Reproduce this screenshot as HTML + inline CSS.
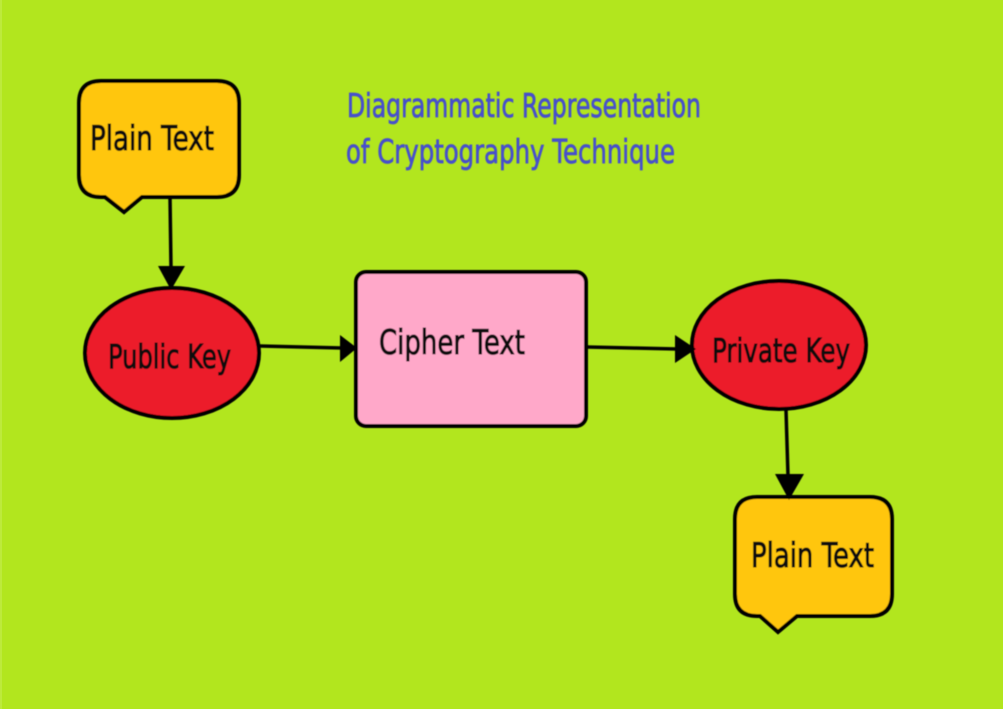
<!DOCTYPE html>
<html><head><meta charset="utf-8"><style>
html,body{margin:0;padding:0;background:#b2e61e;width:1003px;height:709px;overflow:hidden}
svg{display:block}
text{font-family:"DejaVu Sans","Liberation Sans",sans-serif}
</style></head><body>
<svg width="1003" height="709" viewBox="0 0 1003 709" xmlns="http://www.w3.org/2000/svg">
<defs><filter id="b" x="-5%" y="-5%" width="110%" height="110%"><feGaussianBlur stdDeviation="0.5"/></filter></defs>
<rect x="0" y="0" width="1003" height="709" fill="#b2e61e"/>
<rect x="0" y="0" width="2" height="709" fill="#bdea3c"/>
<g filter="url(#b)">
<path d="M101 81H217Q239 81 239 103V175Q239 197 217 197H142L124 212L105 197H101Q79 197 79 175V103Q79 81 101 81Z" fill="#ffc60f" stroke="#000" stroke-width="4"/>
<path d="M757 497H870Q892 497 892 519V594Q892 616 870 616H797L778 632L760 616H757Q735 616 735 594V519Q735 497 757 497Z" fill="#ffc60f" stroke="#000" stroke-width="4"/>
<ellipse cx="172" cy="353" rx="87" ry="65" fill="#ec1c2b" stroke="#000" stroke-width="4"/>
<ellipse cx="779" cy="345" rx="87" ry="64" fill="#ec1c2b" stroke="#000" stroke-width="4"/>
<rect x="356" y="272" width="230" height="154" rx="10" fill="#ffa8c9" stroke="#000" stroke-width="4"/>
<g stroke="#000" stroke-width="3.5" fill="none">
<line x1="170" y1="197" x2="171" y2="268"/>
<line x1="260" y1="346" x2="342" y2="348"/>
<line x1="587" y1="347" x2="677" y2="349"/>
<line x1="786" y1="410" x2="788" y2="476"/>
</g>
<g fill="#000">
<polygon points="158,266 185,266 171,290"/>
<polygon points="340,335 340,362 357,348"/>
<polygon points="675,335 675,363 696,349"/>
<polygon points="775,474 804,474 789,500"/>
</g>
<g font-size="34" fill="#101010" stroke="#101010" stroke-width="1">
<text x="90" y="150" textLength="124" lengthAdjust="spacingAndGlyphs">Plain Text</text>
<text x="751" y="567" textLength="123" lengthAdjust="spacingAndGlyphs">Plain Text</text>
<text x="379" y="354" textLength="146" lengthAdjust="spacingAndGlyphs">Cipher Text</text>
<text x="108" y="368" font-size="33" textLength="123" lengthAdjust="spacingAndGlyphs">Public Key</text>
<text x="712" y="362" font-size="33" textLength="138" lengthAdjust="spacingAndGlyphs">Private Key</text>
</g>
<g font-size="33" fill="#4650cc" stroke="#4650cc" stroke-width="0.8">
<text x="347" y="117" textLength="354" lengthAdjust="spacingAndGlyphs">Diagrammatic Representation</text>
<text x="346" y="163" textLength="329" lengthAdjust="spacingAndGlyphs">of Cryptography Technique</text>
</g>
</g>
</svg>
</body></html>
